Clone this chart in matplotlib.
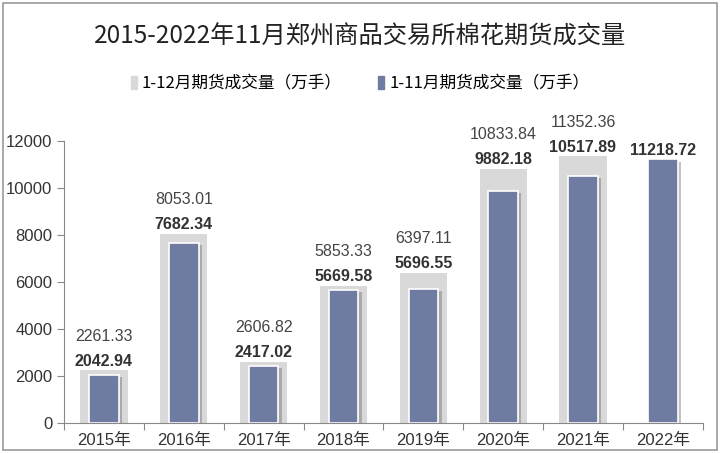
import matplotlib.pyplot as plt
import matplotlib.patheffects as pe
from matplotlib.patches import Rectangle
import numpy as np

plt.rcParams['font.family'] = ['Liberation Sans', 'Noto Sans CJK SC', 'DejaVu Sans']

years = ["2015年", "2016年", "2017年", "2018年", "2019年", "2020年", "2021年", "2022年"]
full_year = [2261.33, 8053.01, 2606.82, 5853.33, 6397.11, 10833.84, 11352.36, np.nan]
jan_nov = [2042.94, 7682.34, 2417.02, 5669.58, 5696.55, 9882.18, 10517.89, 11218.72]
full_lab = ["2261.33", "8053.01", "2606.82", "5853.33", "6397.11", "10833.84", "11352.36", ""]
nov_lab = ["2042.94", "7682.34", "2417.02", "5669.58", "5696.55", "9882.18", "10517.89", "11218.72"]

fig = plt.figure(figsize=(7.2, 4.53), dpi=100)
ax = fig.add_axes([0.089, 0.066, 0.887, 0.6225])

x = np.arange(len(years))
ax.bar(x, full_year, width=0.59, color="#d9d9d9", zorder=1)
ax.bar(x, jan_nov, width=0.37, color="#6f7ba0", edgecolor="white", linewidth=1.2, zorder=2,
       path_effects=[pe.SimplePatchShadow(offset=(2.5, -1.5), shadow_rgbFace="#555555", alpha=0.35), pe.Normal()])

for i in range(len(years)):
    base = full_year[i] if not np.isnan(full_year[i]) else jan_nov[i]
    ax.annotate(nov_lab[i], (x[i], base), xytext=(0, 1), textcoords="offset points",
                ha="center", va="bottom", fontsize=11.5, fontweight="bold", color="#333333",
                annotation_clip=False)
    if full_lab[i]:
        ax.annotate(full_lab[i], (x[i], base), xytext=(0, 19), textcoords="offset points",
                    ha="center", va="bottom", fontsize=11.5, color="#444444",
                    annotation_clip=False)

ax.set_xlim(-0.5, len(years) - 0.5)
ax.set_ylim(0, 12000)
ax.set_yticks(np.arange(0, 12001, 2000))
ax.tick_params(axis="y", labelsize=12, colors="#888888", labelcolor="#333333", length=5, direction="out")
ax.set_xticks(np.arange(-0.5, len(years), 1))
ax.set_xticklabels([])
ax.set_xticks(x, minor=True)
ax.set_xticklabels(years, minor=True)
ax.tick_params(axis="x", which="major", colors="#888888", length=5, direction="out")
ax.tick_params(axis="x", which="minor", length=0, labelsize=12, labelcolor="#333333", pad=7)
for s in ["top", "right"]:
    ax.spines[s].set_visible(False)
for s in ["left", "bottom"]:
    ax.spines[s].set_color("#888888")

fig.text(0.5, 0.918, "2015-2022年11月郑州商品交易所棉花期货成交量", ha="center", va="center",
         fontsize=17.5, fontweight="medium", color="#222222", family=["Noto Sans CJK SC", "DejaVu Sans"])

h1 = Rectangle((0, 0), 1, 1, color="#d9d9d9")
h2 = Rectangle((0, 0), 1, 1, color="#6f7ba0")
fig.legend([h1, h2], ["1-12月期货成交量（万手）", "1-11月期货成交量（万手）"],
           loc="center", bbox_to_anchor=(0.5, 0.815), ncol=2, frameon=False,
           handlelength=0.35, handleheight=0.9, handletextpad=0.3, columnspacing=2.2,
           prop={"family": ["Noto Sans CJK SC", "DejaVu Sans"], "size": 12})

fig.patches.append(Rectangle((0.004, 0.006), 0.992, 0.988, transform=fig.transFigure,
                             fill=False, edgecolor="#999999", linewidth=1.2))

fig.savefig("out.png", dpi=100)
